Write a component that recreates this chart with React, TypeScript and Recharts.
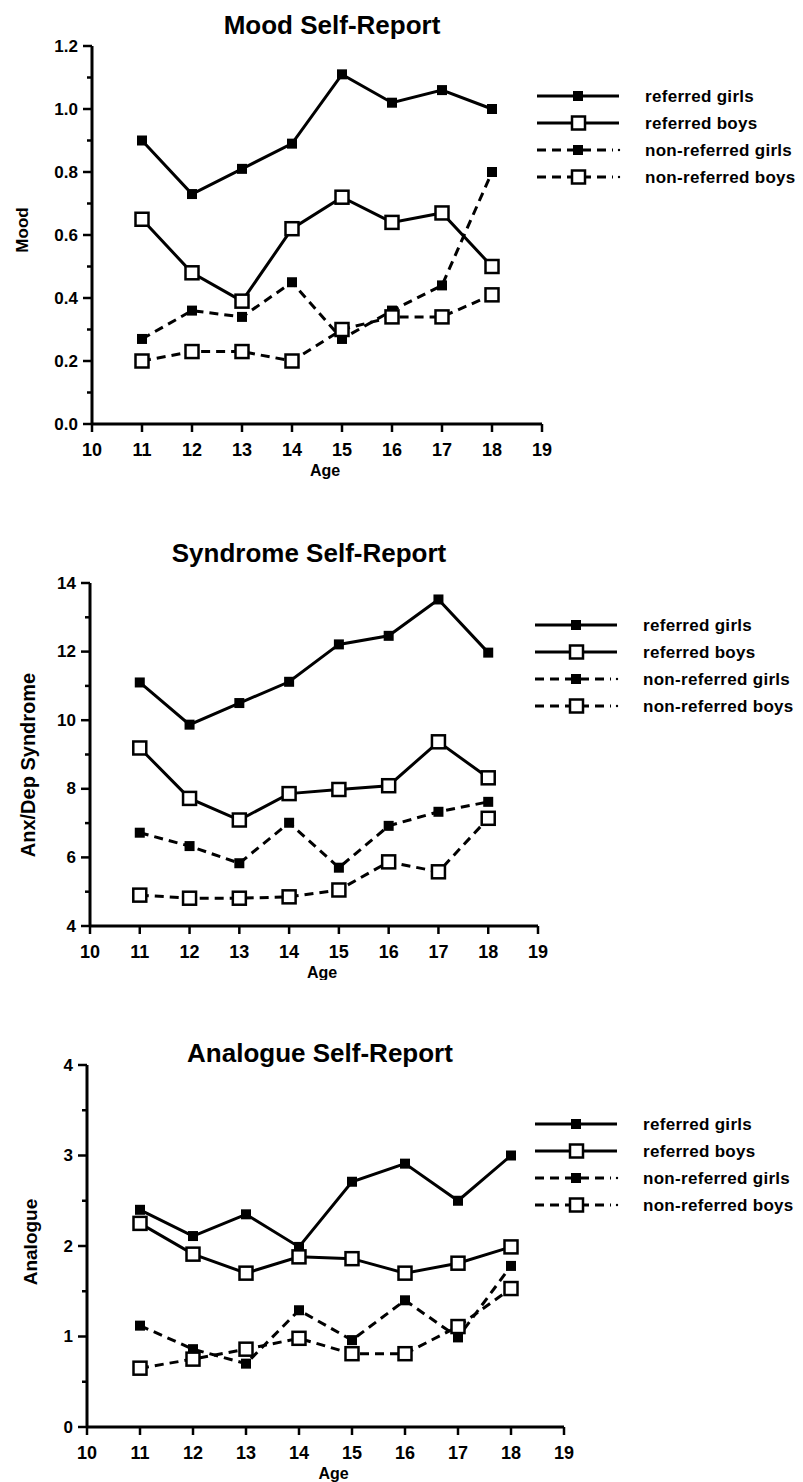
import { LineChart, Line, XAxis, YAxis, Legend } from 'recharts';

const ages = [11, 12, 13, 14, 15, 16, 17, 18];
const ageTicks = [10, 11, 12, 13, 14, 15, 16, 17, 18, 19];
const seriesNames = ['referred girls', 'referred boys', 'non-referred girls', 'non-referred boys'];

const moodRefGirls = [0.90, 0.73, 0.81, 0.89, 1.11, 1.02, 1.06, 1.00];
const moodRefBoys = [0.65, 0.48, 0.39, 0.62, 0.72, 0.64, 0.67, 0.50];
const moodNonGirls = [0.27, 0.36, 0.34, 0.45, 0.27, 0.36, 0.44, 0.80];
const moodNonBoys = [0.20, 0.23, 0.23, 0.20, 0.30, 0.34, 0.34, 0.41];
const moodTicks = [0, 0.1, 0.2, 0.3, 0.4, 0.5, 0.6, 0.7, 0.8, 0.9, 1.0, 1.1, 1.2];
const moodMajor = [0, 0.2, 0.4, 0.6, 0.8, 1.0, 1.2];

const synRefGirls = [11.1, 9.87, 10.5, 11.12, 12.21, 12.46, 13.52, 11.97];
const synRefBoys = [9.19, 7.72, 7.09, 7.86, 7.98, 8.09, 9.37, 8.32];
const synNonGirls = [6.72, 6.33, 5.83, 7.01, 5.7, 6.92, 7.33, 7.62];
const synNonBoys = [4.9, 4.81, 4.81, 4.85, 5.05, 5.87, 5.58, 7.14];
const synTicks = [4, 5, 6, 7, 8, 9, 10, 11, 12, 13, 14];
const synMajor = [4, 6, 8, 10, 12, 14];

const anaRefGirls = [2.4, 2.11, 2.35, 1.99, 2.71, 2.91, 2.5, 3.0];
const anaRefBoys = [2.25, 1.91, 1.7, 1.88, 1.86, 1.7, 1.81, 1.99];
const anaNonGirls = [1.12, 0.86, 0.7, 1.29, 0.96, 1.4, 0.99, 1.78];
const anaNonBoys = [0.65, 0.75, 0.86, 0.98, 0.81, 0.81, 1.11, 1.53];
const anaTicks = [0, 0.5, 1, 1.5, 2, 2.5, 3, 3.5, 4];
const anaMajor = [0, 1, 2, 3, 4];

const FONT = '"Liberation Sans", Arial, Helvetica, sans-serif';
const DASH = '9 6';

function makeRows(a: number[], b: number[], c: number[], d: number[]) {
    return ages.map((age, i) => ({ age, rg: a[i], rb: b[i], ng: c[i], nb: d[i] }));
}

const FilledDot = (props: any) => {
    const { cx, cy, index } = props;
    return <rect key={`f${index}`} x={cx - 5} y={cy - 5} width={10} height={10} fill="#000" />;
};

const OpenDot = (props: any) => {
    const { cx, cy, index } = props;
    return <rect key={`o${index}`} x={cx - 6.5} y={cy - 6.5} width={13} height={13} fill="#fff" stroke="#000" strokeWidth={2.5} />;
};

const xTick = (props: any) => {
    const { x, y, payload } = props;
    return (
        <g>
            <line x1={x} x2={x} y1={y} y2={y + 8} stroke="#000" strokeWidth={2.5} />
            <text x={x} y={y + 26} textAnchor="middle" dominantBaseline="central"
                fontFamily={FONT} fontWeight="bold" fontSize={18} fill="#000">{payload.value}</text>
        </g>
    );
};

const makeYTick = (major: number[], digits: number) => (props: any) => {
    const { x, y, payload } = props;
    const isMajor = major.includes(payload.value);
    return (
        <g>
            <line x1={x - (isMajor ? 9 : 5)} x2={x} y1={y} y2={y} stroke="#000" strokeWidth={2.5} />
            {isMajor && (
                <text x={x - 14} y={y} textAnchor="end" dominantBaseline="central"
                    fontFamily={FONT} fontWeight="bold" fontSize={17} fill="#000">
                    {payload.value.toFixed(digits)}
                </text>
            )}
        </g>
    );
};

function LegendBox() {
    const rows = [
        { dash: undefined, open: false },
        { dash: undefined, open: true },
        { dash: DASH, open: false },
        { dash: DASH, open: true },
    ];
    return (
        <svg width={280} height={110}>
            {rows.map((r, i) => {
                const y = 10 + i * 27;
                return (
                    <g key={i}>
                        <line x1={0} x2={r.dash ? 76 : 82} y1={y} y2={y} stroke="#000" strokeWidth={3} strokeDasharray={r.dash} />
                        {r.dash && <circle cx={82} cy={y} r={1.2} fill="#000" />}
                        {r.open
                            ? <rect x={35} y={y - 6.5} width={13} height={13} fill="#fff" stroke="#000" strokeWidth={2.5} />
                            : <rect x={36} y={y - 5} width={10} height={10} fill="#000" />}
                        <text x={108} y={y} dominantBaseline="central" fontFamily={FONT} fontWeight="bold"
                            fontSize={17} letterSpacing={0.3} fill="#000">{seriesNames[i]}</text>
                    </g>
                );
            })}
        </svg>
    );
}

type PanelProps = {
    top: number;
    height: number;
    plotTop: number;
    plotBottom: number;
    plotLeft: number;
    plotRight: number;
    title: string;
    titleX: number;
    titleY: number;
    yLabel: string;
    yLabelX: number;
    yLabelY: number;
    yLabelSize: number;
    legendLeft: number;
    legendTop: number;
    rows: any[];
    yDomain: [number, number];
    yTicks: number[];
    yMajor: number[];
    digits: number;
};

function Panel(p: PanelProps) {
    const yAxisWidth = 40;
    const xAxisHeight = 30;
    const margin = {
        top: p.plotTop - p.top,
        left: p.plotLeft - yAxisWidth,
        right: 803 - p.plotRight,
        bottom: p.top + p.height - p.plotBottom - xAxisHeight,
    };
    const labelY = p.yLabelY - p.top;
    const midX = (p.plotLeft + p.plotRight) / 2;
    return (
        <div style={{ position: 'absolute', left: 0, top: p.top, width: 803, height: p.height }}>
            <div style={{
                position: 'absolute', left: p.titleX - 200, width: 400, top: p.titleY - p.top - 16,
                textAlign: 'center', fontFamily: FONT, fontWeight: 'bold', fontSize: 26, lineHeight: '32px',
            }}>{p.title}</div>
            <LineChart width={803} height={p.height} data={p.rows} margin={margin}>
                <XAxis type="number" dataKey="age" domain={[10, 19]} ticks={ageTicks} interval={0}
                    axisLine={{ stroke: '#000', strokeWidth: 3 }} tickLine={false} tickSize={0} tickMargin={0}
                    tick={xTick} height={xAxisHeight}
                    label={{
                        content: () => (
                            <text x={midX + 8} y={p.plotBottom - p.top + 46} textAnchor="middle" dominantBaseline="central"
                                fontFamily={FONT} fontWeight="bold" fontSize={16} fill="#000">Age</text>
                        ),
                    }} />
                <YAxis type="number" domain={p.yDomain} ticks={p.yTicks} interval={0} width={yAxisWidth}
                    axisLine={{ stroke: '#000', strokeWidth: 3 }} tickLine={false} tickSize={0} tickMargin={0}
                    tick={makeYTick(p.yMajor, p.digits)}
                    label={{
                        content: () => (
                            <text x={p.yLabelX} y={labelY} transform={`rotate(-90 ${p.yLabelX} ${labelY})`}
                                textAnchor="middle" dominantBaseline="central" fontFamily={FONT}
                                fontWeight="bold" fontSize={p.yLabelSize} fill="#000">{p.yLabel}</text>
                        ),
                    }} />
                <Legend layout="horizontal" verticalAlign="middle" align="center" content={() => <LegendBox />}
                    wrapperStyle={{ left: p.legendLeft, top: p.legendTop - p.top - 10, width: 280, height: 110 }} />
                <Line dataKey="rg" stroke="#000" strokeWidth={3} dot={FilledDot} isAnimationActive={false} />
                <Line dataKey="rb" stroke="#000" strokeWidth={3} dot={OpenDot} isAnimationActive={false} />
                <Line dataKey="ng" stroke="#000" strokeWidth={3} strokeDasharray={DASH} dot={FilledDot} isAnimationActive={false} />
                <Line dataKey="nb" stroke="#000" strokeWidth={3} strokeDasharray={DASH} dot={OpenDot} isAnimationActive={false} />
            </LineChart>
        </div>
    );
}

export default function App() {
    return (
        <div style={{ position: 'absolute', left: 0, top: 0, width: 803, height: 1482, background: '#fff' }}>
            <Panel top={0} height={480} plotTop={46} plotBottom={424} plotLeft={92} plotRight={542}
                title="Mood Self-Report" titleX={332} titleY={25}
                yLabel="Mood" yLabelX={22} yLabelY={230} yLabelSize={17}
                legendLeft={537} legendTop={96}
                rows={makeRows(moodRefGirls, moodRefBoys, moodNonGirls, moodNonBoys)}
                yDomain={[0, 1.2]} yTicks={moodTicks} yMajor={moodMajor} digits={1} />
            <Panel top={490} height={490} plotTop={583} plotBottom={926} plotLeft={90} plotRight={538}
                title="Syndrome Self-Report" titleX={309} titleY={553}
                yLabel="Anx/Dep Syndrome" yLabelX={28} yLabelY={765} yLabelSize={20}
                legendLeft={535} legendTop={625}
                rows={makeRows(synRefGirls, synRefBoys, synNonGirls, synNonBoys)}
                yDomain={[4, 14]} yTicks={synTicks} yMajor={synMajor} digits={0} />
            <Panel top={990} height={492} plotTop={1065} plotBottom={1427} plotLeft={87} plotRight={564}
                title="Analogue Self-Report" titleX={320} titleY={1053}
                yLabel="Analogue" yLabelX={30} yLabelY={1242} yLabelSize={19}
                legendLeft={535} legendTop={1124}
                rows={makeRows(anaRefGirls, anaRefBoys, anaNonGirls, anaNonBoys)}
                yDomain={[0, 4]} yTicks={anaTicks} yMajor={anaMajor} digits={0} />
        </div>
    );
}
